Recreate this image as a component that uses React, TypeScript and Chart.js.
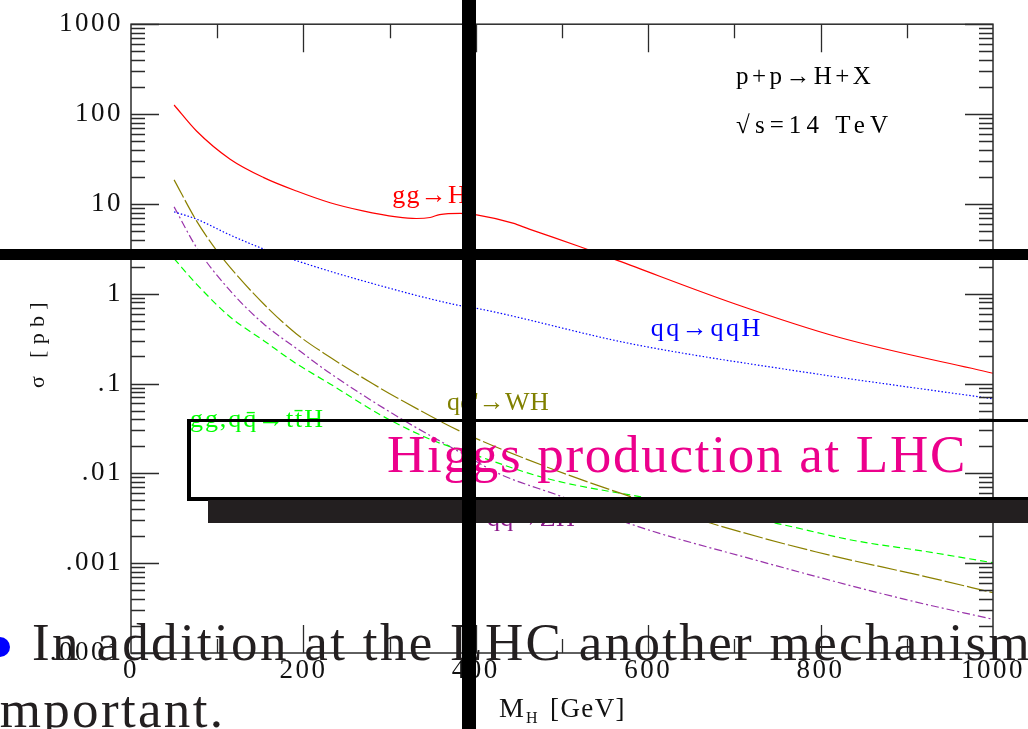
import React, { useEffect, useRef } from "react";
import { Chart, registerables } from "chart.js";

Chart.register(...registerables);

// Higgs boson mass grid (GeV) and cross sections (pb) per production channel, pp at 14 TeV
const ggHMass = [50, 76, 115, 154, 192, 231, 269, 308, 331, 347, 358, 382, 401, 443, 462, 521, 565, 701, 821, 1000];
const ggHXsec = [126, 64.7, 31.4, 19.6, 13.9, 10.3, 8.36, 7.17, 6.87, 7.05, 7.6, 7.85, 7.55, 6.1, 5.24, 3.33, 2.33, 0.767, 0.327, 0.13];

const vbfMass = [50, 76, 115, 154, 192, 269, 382, 400, 581, 781, 1000];
const vbfXsec = [8.15, 6.76, 4.5, 3.14, 2.33, 1.39, 0.735, 0.69, 0.276, 0.134, 0.0676];

const whMass = [50, 76, 99, 115, 154, 192, 231, 280, 308, 384, 483, 584, 672, 794, 924, 1000];
const whXsec = [18.5, 6.47, 3.06, 1.96, 0.767, 0.356, 0.196, 0.1, 0.07, 0.0288, 0.0117, 0.00532, 0.0028, 0.00134, 0.0007, 0.00047];

const tthMass = [50, 76, 115, 154, 192, 231, 289, 350, 389, 483, 609, 750, 837, 924, 1000];
const tthXsec = [2.45, 1.28, 0.55, 0.3, 0.166, 0.099, 0.045, 0.0233, 0.0173, 0.00873, 0.0051, 0.00276, 0.0018, 0.00134, 0.00101];

const zhMass = [50, 76, 115, 154, 192, 231, 308, 384, 428, 501, 578, 725, 898, 1000];
const zhXsec = [9.26, 3.27, 1.08, 0.46, 0.245, 0.13, 0.0435, 0.0167, 0.0098, 0.00545, 0.00276, 0.00108, 0.000395, 0.000237];

// Axis ticks
const massTicks = [0, 200, 400, 600, 800, 1000];
const sigmaTicks = [0.0001, 0.001, 0.01, 0.1, 1, 10, 100, 1000];
const sigmaTickLabels = [".0001", ".001", ".01", ".1", "1", "10", "100", "1000"];

const SERIF = '"Liberation Serif", "DejaVu Serif", serif';

const toPoints = (xs: number[], ys: number[]) => xs.map((x, i) => ({ x, y: ys[i] }));

function setSpacing(ctx: CanvasRenderingContext2D, px: number) {
  (ctx as any).letterSpacing = px + "px";
}

// Draws text stretched with letter spacing to a given overall width.
function fillFitted(ctx: CanvasRenderingContext2D, text: string, x: number, y: number, width: number) {
  setSpacing(ctx, 0);
  const w = ctx.measureText(text).width;
  const n = Array.from(text).filter((c) => !/\p{M}/u.test(c)).length;
  const s = n > 0 ? (width - w) / n : 0;
  setSpacing(ctx, s);
  ctx.fillText(text, x, y);
  return s;
}

// Channel labels placed in data coordinates (mass, sigma) at their left baseline
const channelLabels = [
  { text: "gg→H", mass: 303, sigma: 10.26, color: "#ff0000", width: 76 },
  { text: "qq→qqH", mass: 603, sigma: 0.3415, color: "#0000ff", width: 112 },
  { text: "gg,qq̄→tt̄H", mass: 68.4, sigma: 0.0324, color: "#00ff00", width: 135 },
  { text: "qq'→WH", mass: 366.6, sigma: 0.0501, color: "#808000", width: 102 },
  { text: "qq→ZH", mass: 413, sigma: 0.002576, color: "#8b1a8b", width: 88 },
  { text: "p+p→H+X", mass: 702, sigma: 215.4, color: "#000000", width: 138 },
  { text: "√s=14 TeV", mass: 702, sigma: 61.5, color: "#000000", width: 157 },
];

const decorPlugin = {
  id: "decor",
  beforeDraw(chart: any) {
    setSpacing(chart.ctx, 2.5);
  },
  afterDraw(chart: any) {
    const { ctx, chartArea: a, scales } = chart;
    const xs = scales.x;
    const ys = scales.y;
    ctx.save();
    setSpacing(ctx, 0);

    // frame
    ctx.strokeStyle = "#2b2b2b";
    ctx.lineWidth = 1.5;
    ctx.strokeRect(a.left, a.top, a.right - a.left, a.bottom - a.top);

    // inward tick marks on all four sides
    ctx.lineWidth = 1.3;
    ctx.beginPath();
    for (let e = -4; e <= 3; e++) {
      for (let m = 1; m <= 9; m++) {
        const v = m * Math.pow(10, e);
        if (v > 1000.0001) break;
        const py = Math.round(ys.getPixelForValue(v)) + 0.5;
        const len = m === 1 ? 28 : 14;
        ctx.moveTo(a.left, py);
        ctx.lineTo(a.left + len, py);
        ctx.moveTo(a.right, py);
        ctx.lineTo(a.right - len, py);
      }
    }
    for (let v = 100; v < 1000; v += 100) {
      const px = Math.round(xs.getPixelForValue(v)) + 0.5;
      const len = v % 200 === 0 ? 28 : 14;
      ctx.moveTo(px, a.top);
      ctx.lineTo(px, a.top + len);
      ctx.moveTo(px, a.bottom);
      ctx.lineTo(px, a.bottom - len);
    }
    ctx.stroke();

    // axis titles
    ctx.fillStyle = "#111";
    ctx.textBaseline = "alphabetic";
    ctx.textAlign = "left";
    ctx.font = `28px ${SERIF}`;
    ctx.fillText("M", 499, 717);
    ctx.font = `16px ${SERIF}`;
    ctx.fillText("H", 526, 723);
    ctx.font = `27px ${SERIF}`;
    fillFitted(ctx, "[GeV]", 550, 717, 76);

    ctx.save();
    ctx.translate(44, 342);
    ctx.rotate(-Math.PI / 2);
    ctx.textAlign = "center";
    ctx.font = `22px ${SERIF}`;
    fillFitted(ctx, "σ [pb]", 0, 0, 92);
    ctx.restore();

    // channel labels
    ctx.textAlign = "left";
    for (const l of channelLabels) {
      ctx.fillStyle = l.color;
      ctx.font = `${l.color === "#000000" ? 25 : 26}px ${SERIF}`;
      fillFitted(ctx, l.text, xs.getPixelForValue(l.mass), ys.getPixelForValue(l.sigma), l.width);
    }

    // slide title box with drop shadow
    ctx.fillStyle = "#000";
    ctx.fillRect(187, 419, 4, 82);
    ctx.fillRect(187, 419, 900, 3);
    ctx.fillRect(187, 497, 900, 4);
    ctx.fillStyle = "#231f20";
    ctx.fillRect(208, 500, 830, 23);

    ctx.fillStyle = "#ec008c";
    ctx.font = `53px ${SERIF}`;
    fillFitted(ctx, "Higgs production at LHC", 387, 472, 580);

    // bullet text
    ctx.fillStyle = "#0000ff";
    ctx.beginPath();
    ctx.arc(0, 647, 10, 0, Math.PI * 2);
    ctx.fill();
    ctx.fillStyle = "#231f20";
    ctx.font = `53px ${SERIF}`;
    const s = fillFitted(ctx, "In addition at the LHC another mechanism", 32, 660, 1000);
    setSpacing(ctx, s);
    ctx.textAlign = "right";
    ctx.fillText("important.", 223 + s, 727);
    ctx.textAlign = "left";
    setSpacing(ctx, 0);

    // heavy rules across the slide
    ctx.fillStyle = "#000";
    ctx.fillRect(0, 249, 1028, 11);
    ctx.fillRect(462, 0, 14, 729);

    ctx.restore();
  },
};

export default function App() {
  const canvasRef = useRef<HTMLCanvasElement | null>(null);

  useEffect(() => {
    document.body.style.margin = "0";
    document.body.style.overflow = "hidden";
    const canvas = canvasRef.current;
    if (!canvas) return;

    const line = (label: string, xs: number[], ys: number[], color: string, dash: number[]) => ({
      label,
      data: toPoints(xs, ys),
      borderColor: color,
      backgroundColor: color,
      borderWidth: 1.2,
      borderDash: dash,
      pointRadius: 0,
      fill: false,
      cubicInterpolationMode: "monotone" as const,
    });

    const chart = new Chart(canvas, {
      type: "line",
      data: {
        datasets: [
          line("gg→H", ggHMass, ggHXsec, "#ff0000", []),
          line("qq→qqH", vbfMass, vbfXsec, "#0000ff", [1.5, 2]),
          line("qq'→WH", whMass, whXsec, "#8b8000", [20, 3]),
          line("gg,qq̄→tt̄H", tthMass, tthXsec, "#00ff00", [7, 4]),
          line("qq→ZH", zhMass, zhXsec, "#9933aa", [8, 3, 2, 3]),
        ],
      },
      options: {
        responsive: false,
        animation: false,
        devicePixelRatio: 1,
        parsing: true,
        layout: { padding: { top: 23, right: 35, left: 0, bottom: 0 }, autoPadding: false },
        plugins: { legend: { display: false }, tooltip: { enabled: false } },
        scales: {
          x: {
            type: "linear",
            min: 0,
            max: 1000,
            afterBuildTicks: (s: any) => {
              s.ticks = massTicks.map((v) => ({ value: v }));
            },
            afterFit: (s: any) => {
              s.height = 76;
            },
            ticks: {
              callback: (v: any) => String(v),
              font: { family: SERIF, size: 27 },
              color: "#111",
              padding: 2,
              maxRotation: 0,
              autoSkip: false,
            },
            grid: { display: false, drawTicks: false },
            border: { display: false },
          },
          y: {
            type: "logarithmic",
            min: 0.0001,
            max: 1000,
            afterBuildTicks: (s: any) => {
              s.ticks = sigmaTicks.map((v) => ({ value: v }));
            },
            afterFit: (s: any) => {
              s.width = 131;
            },
            ticks: {
              callback: (_v: any, i: number) => sigmaTickLabels[i],
              font: { family: SERIF, size: 27 },
              color: "#111",
              padding: 8,
              autoSkip: false,
            },
            grid: { display: false, drawTicks: false },
            border: { display: false },
          },
        },
      },
      plugins: [decorPlugin],
    });

    return () => chart.destroy();
  }, []);

  return (
    <div style={{ position: "absolute", left: 0, top: 0, width: 1028, height: 729 }}>
      <canvas ref={canvasRef} width={1028} height={729} style={{ display: "block" }} />
    </div>
  );
}
